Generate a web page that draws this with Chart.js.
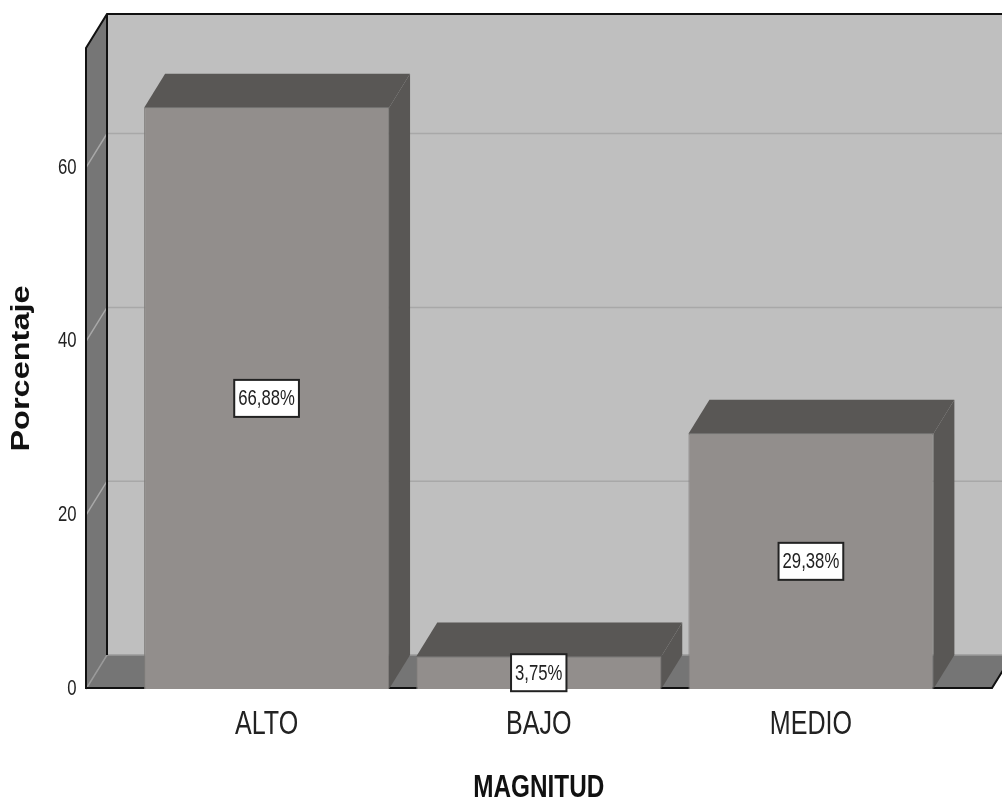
<!DOCTYPE html>
<html>
<head>
<meta charset="utf-8">
<style>html,body{margin:0;padding:0;background:#fff}canvas{display:block}</style>
<script src="https://cdn.jsdelivr.net/npm/chart.js@4"></script>
</head>
<body>
<canvas id="c" width="1002" height="800" style="width:1002px;height:800px"></canvas>
<script>
const categories = ['ALTO', 'BAJO', 'MEDIO'];
const values = [66.88, 3.75, 29.38];
const valueLabels = ['66,88%', '3,75%', '29,38%'];
const yTicks = [0, 20, 40, 60];
const NARROW = '"Liberation Sans Narrow","Liberation Sans",sans-serif';
const WIDE = '"Wide Title","Liberation Sans",sans-serif';
const NARROW_X = 0.76, WIDE_X = 1.3;
const DX = 21, DY = -34;

// The reference text is stretched: squeeze or widen glyphs horizontally, by font tag.
const canvas = document.getElementById('c');
const rawCtx = canvas.getContext('2d');
const origFill = rawCtx.fillText.bind(rawCtx);
rawCtx.fillText = function (t, x, y, m) {
  const f = rawCtx.font;
  const sx = f.includes('Narrow') ? NARROW_X : f.includes('Wide Title') ? WIDE_X : 1;
  if (sx === 1) return origFill(t, x, y, m);
  rawCtx.save();
  rawCtx.translate(x, y);
  rawCtx.scale(sx, 1);
  origFill(t, 0, 0);
  rawCtx.restore();
};

function poly(ctx, pts, fill) {
  ctx.beginPath();
  pts.forEach((p, i) => i ? ctx.lineTo(p[0], p[1]) : ctx.moveTo(p[0], p[1]));
  ctx.closePath();
  ctx.fillStyle = fill;
  ctx.fill();
}
function line(ctx, pts, color, w) {
  ctx.beginPath();
  pts.forEach((p, i) => i ? ctx.lineTo(p[0], p[1]) : ctx.moveTo(p[0], p[1]));
  ctx.strokeStyle = color;
  ctx.lineWidth = w;
  ctx.stroke();
}

const scene = {
  id: 'scene3d',
  beforeDatasetsDraw(chart) {
    const { ctx, scales: { y } } = chart;
    const L = 86, R = 992;
    const base = y.getPixelForValue(0), top = chart.chartArea.top;
    ctx.save();
    poly(ctx, [[L + DX, top + DY], [R + DX, top + DY], [R + DX, base + DY], [L + DX, base + DY]], '#bfbfbf');
    poly(ctx, [[L, top], [L + DX, top + DY], [L + DX, base + DY], [L, base]], '#767676');
    poly(ctx, [[L, base], [L + DX, base + DY], [R + DX, base + DY], [R, base]], '#757575');
    yTicks.forEach(v => {
      const py = y.getPixelForValue(v);
      line(ctx, [[L, py], [L + DX, py + DY], [R + DX, py + DY]], v === 0 ? '#9a9a9a' : '#a8a8a8', 1.5);
    });
    line(ctx, [[L, base], [L, top], [L + DX, top + DY], [R + DX, top + DY]], '#111', 2);
    line(ctx, [[L + DX, top + DY], [L + DX, base + DY]], '#111', 2);
    line(ctx, [[L, base - 1], [R, base - 1], [R + DX, base - 1 + DY]], '#111', 2);
    chart.getDatasetMeta(0).data.forEach(b => {
      const x0 = b.x - b.width / 2, x1 = b.x + b.width / 2;
      poly(ctx, [[x0, b.y], [x0 + DX, b.y + DY], [x1 + DX, b.y + DY], [x1, b.y]], '#595755');
      poly(ctx, [[x1, b.y], [x1 + DX, b.y + DY], [x1 + DX, b.base + DY], [x1, b.base]], '#595755');
    });
    ctx.restore();
  },
  afterDatasetsDraw(chart) {
    const { ctx } = chart;
    ctx.save();
    ctx.font = '22px ' + NARROW;
    ctx.textAlign = 'center';
    ctx.textBaseline = 'middle';
    chart.getDatasetMeta(0).data.forEach((b, i) => {
      const cy = (b.y + b.base) / 2;
      const w = ctx.measureText(valueLabels[i]).width * NARROW_X + 8, h = 37;
      ctx.fillStyle = '#fff';
      ctx.fillRect(b.x - w / 2, cy - h / 2, w, h);
      ctx.strokeStyle = '#222';
      ctx.lineWidth = 2;
      ctx.strokeRect(b.x - w / 2, cy - h / 2, w, h);
      ctx.fillStyle = '#222';
      ctx.fillText(valueLabels[i], b.x, cy + 1);
    });
    ctx.restore();
  }
};

new Chart(canvas, {
  type: 'bar',
  data: {
    labels: categories,
    datasets: [{
      data: values,
      backgroundColor: '#928e8c',
      borderColor: '#7f7c7a',
      borderWidth: 1,
      categoryPercentage: 1,
      barPercentage: 0.9
    }]
  },
  plugins: [scene],
  options: {
    responsive: false,
    animation: false,
    devicePixelRatio: 1,
    layout: { padding: { top: 48, right: 55, left: 0, bottom: 0 } },
    plugins: { legend: { display: false }, tooltip: { enabled: false } },
    scales: {
      x: {
        grid: { display: false, drawTicks: false },
        border: { display: false },
        ticks: { color: '#222', padding: 16, font: { family: NARROW, size: 33 }, maxRotation: 0 },
        title: {
          display: true, text: 'MAGNITUD', color: '#111',
          font: { family: NARROW, size: 32, weight: 'bold' },
          padding: { top: 0, bottom: -7 }
        },
        afterFit(s) { s.height = 111; s.paddingLeft = 0; s.paddingRight = 0; }
      },
      y: {
        min: 0,
        max: 73.76,
        grid: { display: false, drawTicks: false },
        border: { display: false },
        ticks: { color: '#222', padding: 54, font: { family: NARROW, size: 22 } },
        afterBuildTicks(s) { s.ticks = yTicks.map(v => ({ value: v })); },
        title: {
          display: true, text: 'Porcentaje', color: '#111',
          font: { family: WIDE, size: 25, weight: 'bold' },
          padding: { top: 7, bottom: 0 }
        },
        afterFit(s) { s.width = 130.5; s.paddingTop = 0; s.paddingBottom = 0; }
      }
    }
  }
});
</script>
</body>
</html>
